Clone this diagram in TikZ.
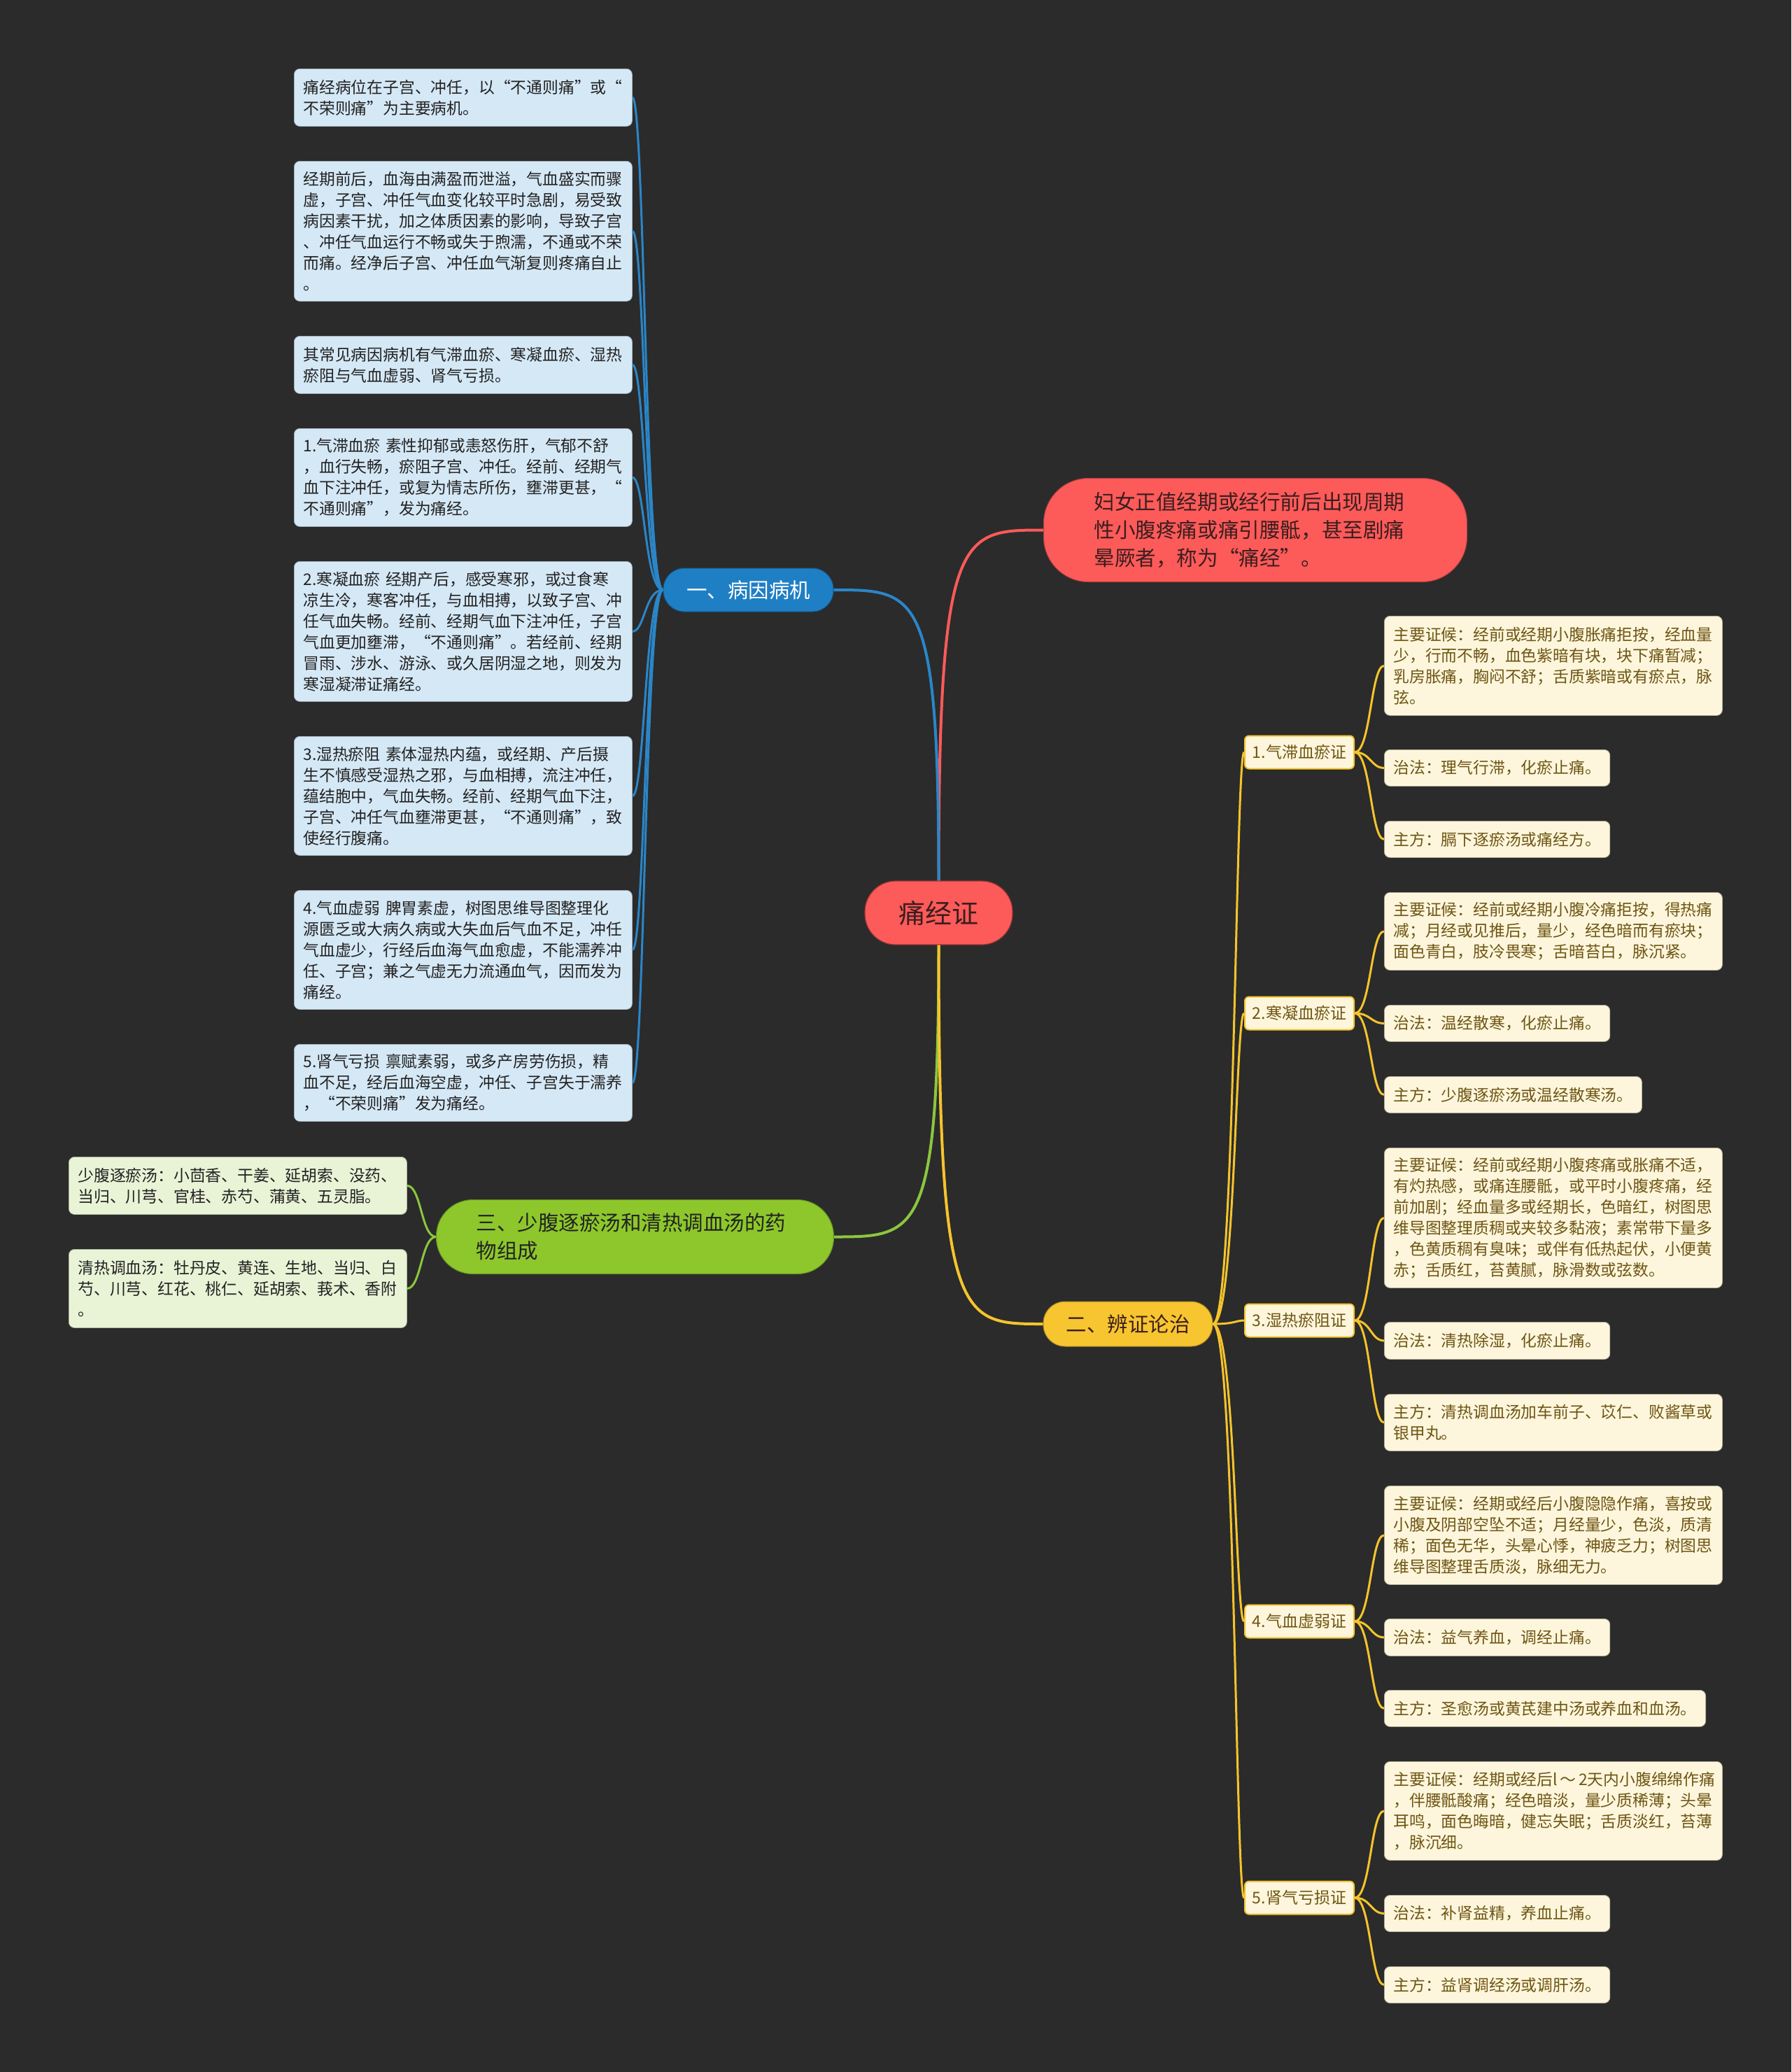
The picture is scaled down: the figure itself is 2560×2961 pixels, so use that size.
\documentclass[tikz,border=0pt]{standalone}
\usepackage{fontspec}
\setmainfont{Noto Sans CJK SC}
\usetikzlibrary{calc}
\definecolor{bg}{HTML}{2B2B2B}
\definecolor{bluefill}{HTML}{D5E8F6}
\definecolor{greenfill}{HTML}{E9F3D6}
\definecolor{creamfill}{HTML}{FDF6DC}
\definecolor{bluemain}{HTML}{1F7FC4}
\definecolor{redmain}{HTML}{FD5A5A}
\definecolor{greenmain}{HTML}{8DC72B}
\definecolor{yellowmain}{HTML}{F7C52F}
\definecolor{blueline}{HTML}{2A86C8}
\definecolor{redline}{HTML}{FF5A5A}
\definecolor{greenline}{HTML}{8CC63F}
\definecolor{yellowline}{HTML}{F5C42C}
\definecolor{darktxt}{HTML}{222222}
\definecolor{browntxt}{HTML}{6E5514}
\definecolor{redtxt}{HTML}{3A1E1E}
\begin{document}
\begin{tikzpicture}[x=1pt,y=-1pt,
  lfbox/.style={anchor=north west, inner xsep=13pt, inner ysep=4pt, rounded corners=8pt,
    font=\fontsize{22.8pt}{30pt}\selectfont, align=left, line width=0.8pt},
  wrapbox/.style={text width=457pt},
  bbox/.style={lfbox, fill=bluefill, draw=bluefill!75!black, text=darktxt},
  gbox/.style={lfbox, fill=greenfill, draw=greenfill!75!black, text=darktxt},
  ybox/.style={lfbox, fill=creamfill, draw=creamfill!70!black, text=browntxt},
  subbox/.style={anchor=center, fill=creamfill, draw=yellowline, line width=2pt, rounded corners=6pt,
    minimum width=156pt, minimum height=47pt, inner sep=4pt, text=browntxt,
    font=\fontsize{23pt}{28pt}\selectfont},
  bline/.style={draw=blueline, line width=3pt},
  gline/.style={draw=greenline, line width=3pt},
  yline/.style={draw=yellowline, line width=3pt},
  mainline/.style={line width=4pt}
]
\fill[bg] (0,0) rectangle (2560,2961);
\useasboundingbox (0,0) rectangle (2560,2961);

% central and main topics
\node[anchor=center, fill=redmain, draw=redmain!60!black, line width=1.2pt, rounded corners=44pt,
  minimum width=211pt, minimum height=91pt, text=redtxt, font=\fontsize{38pt}{44pt}\selectfont]
  (root) at (1341.5,1304.5) {痛经证};
\node[anchor=north west, fill=redmain, draw=redmain!70!black, line width=1pt, rounded corners=64pt,
  minimum height=148pt, text width=461pt, inner xsep=72pt, inner ysep=4pt, align=left, text=redtxt,
  font=\fontsize{29.6pt}{40pt}\selectfont]
  (desc) at (1491,683) {妇女正值经期或经行前后出现周期\\性小腹疼痛或痛引腰骶，甚至剧痛\\晕厥者，称为“痛经”。};
\node[anchor=center, fill=bluemain, draw=bluemain!70!black, line width=1pt, rounded corners=30pt,
  minimum width=243pt, minimum height=62pt, text=white, font=\fontsize{29.5pt}{34pt}\selectfont]
  (yi) at (1069.5,843) {一、病因病机};
\node[anchor=center, fill=yellowmain, draw=yellowmain!70!black, line width=1pt, rounded corners=31pt,
  minimum width=242pt, minimum height=64pt, text=redtxt, font=\fontsize{29.5pt}{34pt}\selectfont]
  (er) at (1612,1892) {二、辨证论治};
\node[anchor=north west, fill=greenmain, draw=greenmain!70!black, line width=1pt, rounded corners=52pt,
  minimum height=106pt, text width=454pt, inner xsep=57pt, inner ysep=4pt, align=left, text=darktxt,
  font=\fontsize{29.5pt}{40pt}\selectfont]
  (san) at (623,1714) {三、少腹逐瘀汤和清热调血汤的药\\物组成};

% blue leaves
\node[bbox, wrapbox, minimum height=82pt] (b1) at (420,98) {痛经病位在子宫、冲任，以“不通则痛”或“\\不荣则痛”为主要病机。};
\node[bbox, wrapbox, minimum height=200pt] (b2) at (420,230) {经期前后，血海由满盈而泄溢，气血盛实而骤\\虚，子宫、冲任气血变化较平时急剧，易受致\\病因素干扰，加之体质因素的影响，导致子宫\\、冲任气血运行不畅或失于煦濡，不通或不荣\\而痛。经净后子宫、冲任血气渐复则疼痛自止\\。};
\node[bbox, wrapbox, minimum height=82pt] (b3) at (420,480) {其常见病因病机有气滞血瘀、寒凝血瘀、湿热\\瘀阻与气血虚弱、肾气亏损。};
\node[bbox, wrapbox, minimum height=140pt] (b4) at (420,612) {1.气滞血瘀 素性抑郁或恚怒伤肝，气郁不舒\\，血行失畅，瘀阻子宫、冲任。经前、经期气\\血下注冲任，或复为情志所伤，壅滞更甚，“\\不通则痛”，发为痛经。};
\node[bbox, wrapbox, minimum height=200pt] (b5) at (420,802) {2.寒凝血瘀 经期产后，感受寒邪，或过食寒\\凉生冷，寒客冲任，与血相搏，以致子宫、冲\\任气血失畅。经前、经期气血下注冲任，子宫\\气血更加壅滞，“不通则痛”。若经前、经期\\冒雨、涉水、游泳、或久居阴湿之地，则发为\\寒湿凝滞证痛经。};
\node[bbox, wrapbox, minimum height=170pt] (b6) at (420,1052) {3.湿热瘀阻 素体湿热内蕴，或经期、产后摄\\生不慎感受湿热之邪，与血相搏，流注冲任，\\蕴结胞中，气血失畅。经前、经期气血下注，\\子宫、冲任气血壅滞更甚，“不通则痛”，致\\使经行腹痛。};
\node[bbox, wrapbox, minimum height=170pt] (b7) at (420,1272) {4.气血虚弱 脾胃素虚，树图思维导图整理化\\源匮乏或大病久病或大失血后气血不足，冲任\\气血虚少，行经后血海气血愈虚，不能濡养冲\\任、子宫；兼之气虚无力流通血气，因而发为\\痛经。};
\node[bbox, wrapbox, minimum height=110pt] (b8) at (420,1492) {5.肾气亏损 禀赋素弱，或多产房劳伤损，精\\血不足，经后血海空虚，冲任、子宫失于濡养\\，“不荣则痛”发为痛经。};

% green leaves
\node[gbox, wrapbox, minimum height=82pt] (g1) at (98,1653) {少腹逐瘀汤：小茴香、干姜、延胡索、没药、\\当归、川芎、官桂、赤芍、蒲黄、五灵脂。};
\node[gbox, wrapbox, minimum height=112pt] (g2) at (98,1785) {清热调血汤：牡丹皮、黄连、生地、当归、白\\芍、川芎、红花、桃仁、延胡索、莪术、香附\\。};

% sub topics
\node[subbox] (s1) at (1857,1075) {1.气滞血瘀证};
\node[subbox] (s2) at (1857,1448) {2.寒凝血瘀证};
\node[subbox] (s3) at (1857,1887) {3.湿热瘀阻证};
\node[subbox] (s4) at (1857,2317) {4.气血虚弱证};
\node[subbox] (s5) at (1857,2712) {5.肾气亏损证};

% yellow leaves
\node[ybox, wrapbox, minimum height=142pt] (s1a) at (1978,880) {主要证候：经前或经期小腹胀痛拒按，经血量\\少，行而不畅，血色紫暗有块，块下痛暂减；\\乳房胀痛，胸闷不舒；舌质紫暗或有瘀点，脉\\弦。};
\node[ybox, minimum height=52pt] (s1b) at (1978,1071) {治法：理气行滞，化瘀止痛。};
\node[ybox, minimum height=52pt] (s1c) at (1978,1173) {主方：膈下逐瘀汤或痛经方。};

\node[ybox, wrapbox, minimum height=111pt] (s2a) at (1978,1275) {主要证候：经前或经期小腹冷痛拒按，得热痛\\减；月经或见推后，量少，经色暗而有瘀块；\\面色青白，肢冷畏寒；舌暗苔白，脉沉紧。};
\node[ybox, minimum height=52pt] (s2b) at (1978,1436) {治法：温经散寒，化瘀止痛。};
\node[ybox, minimum height=52pt] (s2c) at (1978,1538) {主方：少腹逐瘀汤或温经散寒汤。};

\node[ybox, wrapbox, minimum height=200pt] (s3a) at (1978,1640) {主要证候：经前或经期小腹疼痛或胀痛不适，\\有灼热感，或痛连腰骶，或平时小腹疼痛，经\\前加剧；经血量多或经期长，色暗红，树图思\\维导图整理质稠或夹较多黏液；素常带下量多\\，色黄质稠有臭味；或伴有低热起伏，小便黄\\赤；舌质红，苔黄腻，脉滑数或弦数。};
\node[ybox, minimum height=53pt] (s3b) at (1978,1889) {治法：清热除湿，化瘀止痛。};
\node[ybox, wrapbox, minimum height=81pt] (s3c) at (1978,1992) {主方：清热调血汤加车前子、苡仁、败酱草或\\银甲丸。};

\node[ybox, wrapbox, minimum height=141pt] (s4a) at (1978,2123) {主要证候：经期或经后小腹隐隐作痛，喜按或\\小腹及阴部空坠不适；月经量少，色淡，质清\\稀；面色无华，头晕心悸，神疲乏力；树图思\\维导图整理舌质淡，脉细无力。};
\node[ybox, minimum height=53pt] (s4b) at (1978,2313) {治法：益气养血，调经止痛。};
\node[ybox, minimum height=52pt] (s4c) at (1978,2415) {主方：圣愈汤或黄芪建中汤或养血和血汤。};

\node[ybox, wrapbox, minimum height=141pt] (s5a) at (1978,2517) {主要证候：经期或经后l\,～\,2天内小腹绵绵作痛\\，伴腰骶酸痛；经色暗淡，量少质稀薄；头晕\\耳鸣，面色晦暗，健忘失眠；舌质淡红，苔薄\\，脉沉细。};
\node[ybox, minimum height=52pt] (s5b) at (1978,2708) {治法：补肾益精，养血止痛。};
\node[ybox, minimum height=52pt] (s5c) at (1978,2810) {主方：益肾调经汤或调肝汤。};

% main branch connectors
\draw[mainline, draw=redline] (root.north) .. controls (root.north |- desc.west) and ($(root.north |- desc.west)!0.2!(desc.west)$) .. (desc.west);
\draw[mainline, draw=blueline] (root.north) .. controls (root.north |- yi.east) and ($(root.north |- yi.east)!0.2!(yi.east)$) .. (yi.east);
\draw[mainline, draw=greenline] (root.south) .. controls (root.south |- san.east) and ($(root.south |- san.east)!0.2!(san.east)$) .. (san.east);
\draw[mainline, draw=yellowline] (root.south) .. controls (root.south |- er.west) and ($(root.south |- er.west)!0.2!(er.west)$) .. (er.west);

% blue leaf connectors
\coordinate (yiL) at ($(yi.west)+(-26,0)$);
\foreach \n in {b1,b2,b3,b4,b5,b6,b7,b8}
  \draw[bline] (yi.west) .. controls (yiL) and (yiL |- \n.east) .. (\n.east);

% green leaf connectors
\coordinate (sanL) at ($(san.west)+(-21,0)$);
\foreach \n in {g1,g2}
  \draw[gline] (san.west) .. controls (sanL) and (sanL |- \n.east) .. (\n.east);

% yellow trunk
\coordinate (erR) at ($(er.east)+(32,0)$);
\foreach \n in {s1,s2,s3,s4,s5}
  \draw[yline] (er.east) .. controls (erR) and (erR |- \n.west) .. (\n.west);

% sub to leaves
\foreach \n in {s1,s2,s3,s4,s5}{
  \coordinate (\n R) at ($(\n.east)+(23,0)$);
  \foreach \m in {a,b,c}
    \draw[yline] (\n.east) .. controls (\n R) and (\n R |- \n\m.west) .. (\n\m.west);
}
\end{tikzpicture}
\end{document}
